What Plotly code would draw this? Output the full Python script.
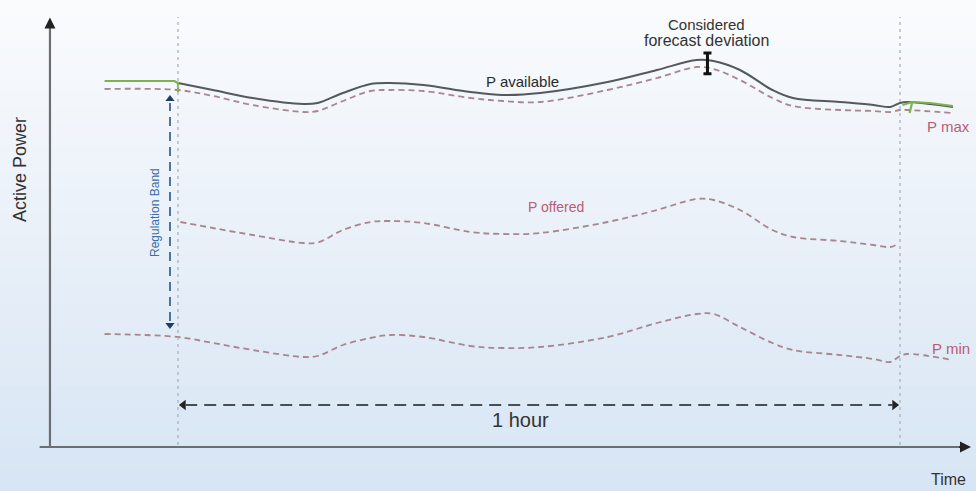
import plotly.graph_objects as go

# ---------------- data (time in minutes, power in arbitrary units) ----------------
t_avail = [0, 2.9, 6.2, 10.4, 11.6, 13.7, 16.0, 17.6, 20.4, 24.3, 27.0, 30.1, 35.7, 39.8,
           43.1, 44.5, 46.7, 49.4, 51.1, 55.0, 57.8, 59.2, 60.0, 60.6, 64.4]
p_avail = [91.0, 89.25, 87.25, 85.75, 86.0, 88.5, 90.75, 91.0, 90.5, 88.75, 88.0, 88.5, 91.25, 94.25,
           96.75, 96.5, 94.25, 89.25, 87.25, 86.25, 85.5, 85.0, 86.0, 86.25, 85.0]

t_max = [-6.1, 0, 2.9, 6.2, 10.4, 11.6, 13.7, 16.0, 17.6, 20.4, 24.3, 27.0, 30.1, 35.7, 39.8,
         43.1, 44.5, 46.7, 49.4, 51.1, 55.0, 57.8, 59.2, 60.0, 60.6, 64.4]
p_max = [89.5, 89.25, 87.75, 85.5, 83.75, 84.0, 86.5, 89.0, 89.25, 89.0, 87.25, 86.5, 86.25, 89.25, 92.25,
         95.0, 94.5, 91.75, 87.25, 85.25, 84.25, 84.0, 83.75, 84.25, 84.25, 83.5]

t_off = [0.2, 2.9, 6.2, 10.4, 11.6, 13.7, 16.0, 17.6, 20.4, 24.3, 27.0, 30.1, 35.7, 39.8,
         43.1, 44.5, 46.7, 49.4, 51.1, 55.0, 57.8, 59.2, 59.8]
p_off = [56.25, 54.75, 53.0, 51.0, 51.1, 54.25, 56.25, 56.5, 56.0, 53.75, 53.25, 53.5, 56.25, 59.25,
         62.0, 61.75, 59.25, 54.25, 52.5, 51.5, 50.5, 50.0, 50.75]

t_min = [-6.1, 0, 2.9, 6.2, 10.4, 11.6, 13.7, 16.0, 17.6, 20.4, 24.3, 27.0, 30.1, 35.7, 39.8,
         43.1, 44.5, 46.7, 49.4, 51.1, 55.0, 57.8, 59.2, 60.0, 60.6, 64.4]
p_min = [28.25, 27.5, 26.0, 24.25, 22.5, 22.75, 25.5, 27.25, 28.0, 27.5, 25.25, 24.75, 25.0, 27.5, 31.0,
         33.25, 33.25, 30.0, 26.0, 24.25, 23.0, 22.0, 21.25, 22.75, 23.25, 21.75]

# green (measured) segments outside the hour
t_green = [-6.1, -0.3, 0.0, 0.0, None, 60.2, 61.0, 62.5, 64.4, None, 61.0, 60.8]
p_green = [91.5, 91.5, 91.0, 88.75, None, 85.5, 86.25, 86.0, 85.25, None, 86.0, 83.5]

# considered forecast deviation
t_dev = [44.0]
p_dev = [95.9]
dev_half = [2.6]

# ---------------- styling / layout constants ----------------
X_RANGE = [-14.792, 66.316]
Y_RANGE = [-11.0, 111.75]
DASH_COL = "#a8868f"
LABEL_RED = "#bb5c74"
FONT = "Liberation Sans, Arial, sans-serif"
SMOOTH = 1.0

fig = go.Figure()

# background gradient (white -> light blue)
n = 60
top = (250, 251, 253)
bot = (215, 229, 244)
for i in range(n):
    f = i / (n - 1)
    c = tuple(int(round(top[k] + (bot[k] - top[k]) * f)) for k in range(3))
    fig.add_shape(type="rect", xref="paper", yref="paper", x0=0, x1=1,
                  y0=1 - (i + 1) / n, y1=1 - i / n + 0.001,
                  fillcolor="rgb(%d,%d,%d)" % c, line_width=0, layer="below")

# vertical dotted boundaries of the hour
for tx in (0, 60):
    fig.add_shape(type="line", x0=tx, x1=tx, y0=0.5, y1=107.5,
                  line=dict(color="#a9b3bd", width=1.3, dash="3px,4px"))

# axes with arrows
fig.add_shape(type="line", x0=-11.5, x1=65.3, y0=0, y1=0, line=dict(color="#6b6f74", width=2.2))
fig.add_shape(type="line", x0=-10.64, x1=-10.64, y0=0, y1=106.5, line=dict(color="#6b6f74", width=2.2))
fig.add_annotation(x=65.9, y=0, ax=64.8, ay=0, axref="x", ayref="y", text="", showarrow=True,
                   arrowhead=2, arrowsize=1.1, arrowwidth=2, arrowcolor="#222")
fig.add_annotation(x=-10.64, y=107.4, ax=-10.64, ay=104.5, axref="x", ayref="y", text="", showarrow=True,
                   arrowhead=2, arrowsize=1.1, arrowwidth=2, arrowcolor="#222")

# curves
for tx, py in ((t_min, p_min), (t_off, p_off), (t_max, p_max)):
    fig.add_trace(go.Scatter(x=tx, y=py, mode="lines",
                             line=dict(color=DASH_COL, width=1.8, dash="6px,4px",
                                       shape="spline", smoothing=SMOOTH), hoverinfo="skip"))
fig.add_trace(go.Scatter(x=t_avail, y=p_avail, mode="lines", line=dict(color="#55585c", width=2.0,
                         shape="spline", smoothing=SMOOTH), hoverinfo="skip"))
fig.add_trace(go.Scatter(x=t_green, y=p_green, mode="lines", line=dict(color="#7fb24e", width=2.2),
                         hoverinfo="skip"))
fig.add_trace(go.Scatter(x=t_dev, y=p_dev, mode="markers", marker=dict(size=1, color="rgba(0,0,0,0)"),
                         error_y=dict(type="data", array=dev_half, color="#111", thickness=3, width=4),
                         hoverinfo="skip"))

# regulation band arrow (dashed, blue)
fig.add_shape(type="line", x0=-0.665, x1=-0.665, y0=31.5, y1=86.0,
              line=dict(color="#3b6793", width=1.8, dash="9px,6px"))
fig.add_trace(go.Scatter(x=[-0.665, -0.665], y=[87.0, 30.5], mode="markers",
                         marker=dict(symbol=["triangle-up", "triangle-down"], size=8, color="#1f3f66"),
                         hoverinfo="skip"))

# 1 hour arrow (dashed, dark)
fig.add_shape(type="line", x0=0.6, x1=59.4, y0=10.5, y1=10.5,
              line=dict(color="#4a4d52", width=2.2, dash="12px,7px"))
fig.add_trace(go.Scatter(x=[0.45, 59.55], y=[10.5, 10.5], mode="markers",
                         marker=dict(symbol=["triangle-left", "triangle-right"], size=9, color="#222"),
                         hoverinfo="skip"))

# texts
def txt(x, y, s, size, color, angle=0):
    fig.add_annotation(x=x, y=y, text=s, showarrow=False, textangle=angle,
                       font=dict(family=FONT, size=size, color=color))

txt(43.96, 105.75, "Considered", 15, "#333")
txt(43.96, 101.75, "forecast deviation", 16, "#333")
txt(28.6, 91.4, "P available", 15, "#2a2a2a")
txt(31.4, 60.0, "P offered", 14, LABEL_RED)
txt(64.0, 80.25, "P max", 15, LABEL_RED)
txt(64.2, 24.6, "P min", 15, LABEL_RED)
txt(28.5, 6.75, "1 hour", 20, "#333")
txt(64.0, -8.0, "Time", 16, "#333")
txt(-13.13, 69.25, "Active Power", 18, "#333", -90)
txt(-1.91, 58.5, "Regulation Band", 12, "#3a6ea5", -90)

fig.update_layout(
    width=976, height=491, margin=dict(l=0, r=0, t=0, b=0),
    showlegend=False, paper_bgcolor="#f3f7fb", plot_bgcolor="rgba(0,0,0,0)",
    xaxis=dict(range=X_RANGE, visible=False, fixedrange=True),
    yaxis=dict(range=Y_RANGE, visible=False, fixedrange=True),
)

fig.write_html("out.html", config={"displayModeBar": False},
               post_script="document.body.style.margin='0';")
